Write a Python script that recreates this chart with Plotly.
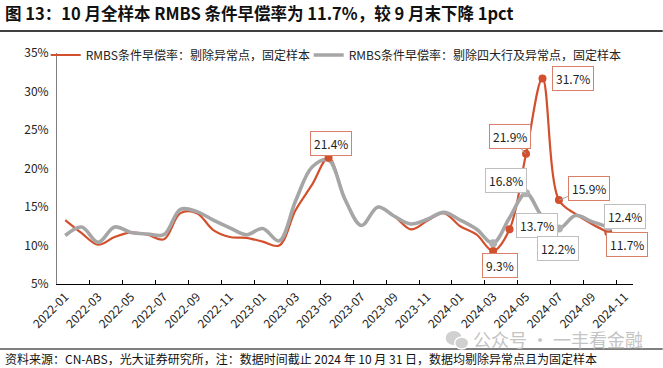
import plotly.graph_objects as go

# ---- data ----
months = [f"{y}-{m:02d}" for y in (2022, 2023, 2024) for m in range(1, 13)][:35]  # 2022-01 .. 2024-11

full_sample = [13.3, 11.6, 10.1, 11.1, 11.7, 11.4, 10.8, 14.2, 14.2, 12.0, 11.1, 11.0,
               10.5, 10.0, 14.6, 17.9, 21.4, 16.0, 12.6, 15.0, 13.8, 12.1, 13.2, 14.2,
               12.5, 11.4, 9.3, 12.1, 21.9, 31.7, 15.9, 14.1, 12.8, 11.7]
ex_big4 = [11.3, 12.4, 10.4, 12.4, 11.7, 11.5, 11.4, 14.7, 14.4, 13.3, 12.3, 11.4,
           12.2, 10.6, 15.8, 20.2, 21.1, 16.0, 12.6, 15.0, 13.8, 12.8, 13.4, 14.3,
           13.3, 12.1, 10.3, 13.6, 16.8, 13.7, 12.2, 13.9, 13.1, 12.4]

name_full = "RMBS条件早偿率：剔除异常点，固定样本"
name_ex = "RMBS条件早偿率：剔除四大行及异常点，固定样本"

full_marked = ["2023-05", "2024-03", "2024-04", "2024-05", "2024-06", "2024-07", "2024-10"]
ex_marked = ["2024-03", "2024-05", "2024-06", "2024-07", "2024-10"]
full_labeled = ["2023-05", "2024-03", "2024-05", "2024-06", "2024-07", "2024-10"]
ex_labeled = ["2024-05", "2024-06", "2024-07", "2024-10"]

title_text = "图 13：10 月全样本 RMBS 条件早偿率为 11.7%，较 9 月末下降 1pct"
source_text = "资料来源：CN-ABS，光大证券研究所，注：数据时间截止 2024 年 10 月 31 日，数据均剔除异常点且为固定样本"
watermark_text = "公众号 · 一丰看金融"

# ---- styles ----
ORANGE = "#D2502D"
GRAY = "#A6A6A6"
FONT = "Noto Sans CJK SC"

x_full = months[:len(full_sample)]
x_ex = months[:len(ex_big4)]

fig = go.Figure()
fig.add_trace(go.Scatter(x=x_full, y=full_sample, mode="lines", name=name_full, legend="legend",
                         line=dict(color=ORANGE, width=2.2, shape="spline", smoothing=1.0)))
fig.add_trace(go.Scatter(x=x_ex, y=ex_big4, mode="lines", name=name_ex, legend="legend2",
                         line=dict(color=GRAY, width=3.6, shape="spline", smoothing=1.0)))

fm_y = [full_sample[months.index(m)] for m in full_marked]
em_y = [ex_big4[months.index(m)] for m in ex_marked]
fig.add_trace(go.Scatter(x=full_marked, y=fm_y, mode="markers", showlegend=False,
                         marker=dict(color=ORANGE, size=8), hoverinfo="skip"))
fig.add_trace(go.Scatter(x=ex_marked, y=em_y, mode="markers", showlegend=False,
                         marker=dict(color="#B0B0B0", size=8), hoverinfo="skip"))

# dummy trace for boundary tick axis
fig.add_trace(go.Scatter(x=[0], y=[None], xaxis="x2", yaxis="y", mode="lines",
                         showlegend=False, hoverinfo="skip"))

# label offsets (pixels) per labeled point
full_off = {"2023-05": (2, -14), "2024-03": (7, 15), "2024-05": (-16, -17),
            "2024-06": (31, 0), "2024-07": (30, -12), "2024-10": (19, 12)}
ex_off = {"2024-05": (-20, -13), "2024-06": (-5, 8), "2024-07": (-1, 20), "2024-10": (17, -11)}
leader = {("full", "2024-05"), ("full", "2024-07")}

annotations = []
for key, series, labeled, offs, col in (("full", full_sample, full_labeled, full_off, "#D9806A"),
                                        ("ex", ex_big4, ex_labeled, ex_off, "#BFBFBF")):
    for m in labeled:
        v = series[months.index(m)]
        ax, ay = offs[m]
        annotations.append(dict(
            x=m, y=v, xref="x", yref="y", text=f"{v:.1f}%",
            showarrow=True, ax=ax, ay=ay, arrowhead=0, arrowwidth=1,
            arrowcolor="#A0A0A0" if (key, m) in leader else "rgba(0,0,0,0)",
            bgcolor="white", bordercolor=col, borderwidth=1, borderpad=3,
            font=dict(family=FONT, size=12, color="#222222")))

PX0, PW, PY0, PH = 57.3, 576.0, 284.0, 231.0
def px(xp):
    return (xp - PX0) / PW
def py(yp):
    return (PY0 - yp) / PH

annotations += [
    dict(text=f"<b>{title_text}</b>", xref="paper", yref="paper", x=px(3), y=py(13), xanchor="left",
         yanchor="middle", showarrow=False, font=dict(family=FONT, size=16.5, color="#111111")),
    dict(text=source_text, xref="paper", yref="paper", x=px(3), y=py(358), xanchor="left",
         yanchor="middle", showarrow=False, font=dict(family=FONT, size=12, color="#111111")),
    dict(text=watermark_text, xref="paper", yref="paper", x=px(471), y=py(339), xanchor="left",
         yanchor="middle", showarrow=False, font=dict(family=FONT, size=18, color="#C4C4C4")),
]

shapes = [
    dict(type="line", xref="paper", yref="paper", x0=px(0), x1=px(663), y0=py(31), y1=py(31),
         line=dict(color="black", width=1.5)),
    dict(type="line", xref="paper", yref="paper", x0=px(0), x1=px(663), y0=py(349), y1=py(349),
         line=dict(color="black", width=1.2)),
    # watermark chat-bubble icon
    dict(type="circle", xref="paper", yref="paper", x0=px(446), x1=px(462), y0=py(345), y1=py(331),
         fillcolor="#D0D0D0", line=dict(width=0)),
    dict(type="circle", xref="paper", yref="paper", x0=px(455), x1=px(469), y0=py(349), y1=py(337),
         fillcolor="#D0D0D0", line=dict(color="white", width=1.5)),
]

boundary_ticks = [i - 0.5 for i in range(2, len(months), 2)]

legend_common = dict(orientation="h", yanchor="middle", xanchor="left",
                     bgcolor="rgba(0,0,0,0)", font=dict(family=FONT, size=12, color="#222222"),
                     itemwidth=30)

fig.update_layout(
    width=663, height=368,
    margin=dict(l=57, r=30, t=53, b=84, autoexpand=False),
    paper_bgcolor="white", plot_bgcolor="white",
    font=dict(family=FONT, size=11, color="#222222"),
    showlegend=True,
    legend=dict(x=px(46), y=py(55), **legend_common),
    legend2=dict(x=px(309), y=py(55), **legend_common),
    xaxis=dict(type="category", categoryorder="array", categoryarray=months,
               range=[-0.5, len(months) - 0.5], showline=True, linecolor="black", linewidth=1.3,
               ticks="", tickvals=months[::2], ticktext=months[::2], tickangle=-45,
               showgrid=False, zeroline=False, automargin=False,
               tickfont=dict(family=FONT, size=12, color="#222222")),
    xaxis2=dict(overlaying="x", anchor="y", side="bottom", range=[-0.5, len(months) - 0.5],
                tickvals=boundary_ticks, ticks="inside", ticklen=4, tickcolor="black", tickwidth=1,
                showticklabels=False, showline=False, showgrid=False, zeroline=False),
    yaxis=dict(range=[5, 35], dtick=5, ticksuffix="%", showline=True, linecolor="#808080",
               linewidth=1, ticks="", showgrid=False, zeroline=False, automargin=False,
               ticklabelstandoff=5,
               tickfont=dict(family=FONT, size=12, color="#222222")),
    annotations=annotations,
    shapes=shapes,
)

fig.write_html("out.html", config={"displayModeBar": False},
               post_script="document.body.style.margin='0';")
